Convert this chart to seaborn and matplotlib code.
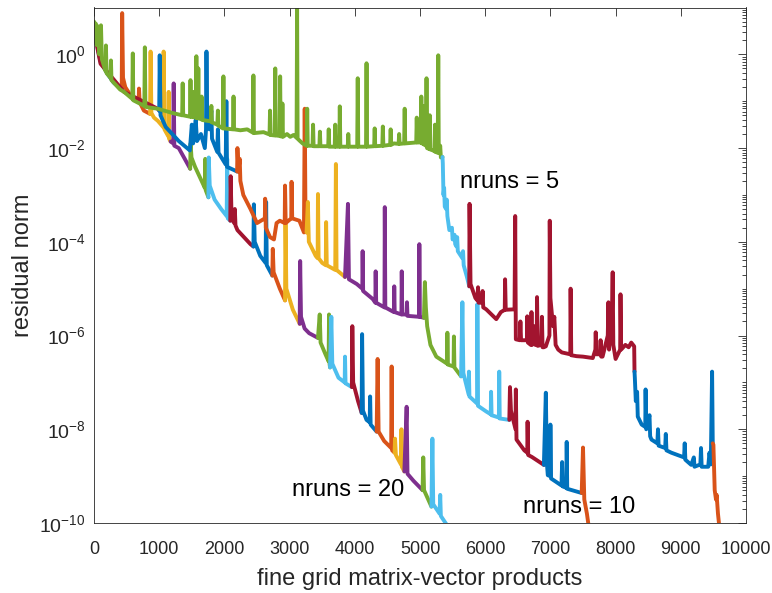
import matplotlib
matplotlib.use("Agg")
import matplotlib.pyplot as plt
import numpy as np
import pandas as pd
import seaborn as sns
from matplotlib.ticker import FixedLocator, LogFormatterSciNotation, NullFormatter

# MATLAB default colour order
COLORS = ["#0072BD", "#D95319", "#EDB120", "#7E2F8E", "#77AC30", "#4DBEEE", "#A2142F"]

# Each run: list of restart segments, each a list of (matvecs, log10 residual norm)
RUN20_COLOR = [0, 1, 2, 3, 4, 5, 6, 0, 1, 2, 3, 4, 5, 6, 0, 1, 2, 3, 4, 5]
RUN20 = [
    [(0, 0.55), (20, 0.3), (40, 0.5), (60, 0.1), (100, -0.15), (200, -0.4), (300, -0.6), (425, -0.75)],
    [(425, -0.75), (432, 0.88), (445, -0.5), (480, -0.7), (550, -0.85), (650, -0.98), (685, -1.0), (690, -0.73),
     (700, -1.02), (765, -1.2), (860, -1.27)],
    [(860, -1.27), (868, 0.06), (880, -1.25), (920, -1.35), (980, -1.42), (1060, -1.55), (1068, 0.06), (1080, -1.6),
     (1140, -1.75), (1145, -0.8), (1152, -1.8), (1175, -1.86)],
    [(1175, -1.86), (1215, -1.9), (1222, -0.62), (1232, -1.95), (1300, -2.0), (1380, -2.2), (1475, -2.44)],
    [(1475, -2.44), (1482, -1.9), (1495, -2.2), (1550, -2.4), (1650, -2.7), (1700, -2.85), (1706, -2.23),
     (1714, -2.9), (1755, -3.05)],
    [(1755, -3.05), (1760, -2.2), (1775, -2.8), (1850, -3.1), (1950, -3.3), (2035, -3.45), (2043, -2.23),
     (2052, -3.5), (2090, -3.55)],
    [(2090, -3.55), (2096, -2.6), (2110, -3.5), (2150, -3.6), (2160, -3.3), (2170, -3.65), (2200, -3.75),
     (2300, -3.9), (2400, -4.05), (2445, -4.1)],
    [(2445, -4.1), (2452, -3.2), (2465, -4.0), (2550, -4.3), (2632, -4.45), (2640, -3.15), (2650, -4.5),
     (2735, -4.72)],
    [(2735, -4.72), (2742, -4.15), (2755, -4.65), (2850, -5.0), (2930, -5.25)],
    [(2930, -5.25), (2937, -3.55), (2950, -5.0), (3050, -5.45), (3155, -5.75)],
    [(3155, -5.75), (3162, -4.41), (3175, -5.6), (3230, -5.85), (3300, -5.95), (3435, -6.05)],
    [(3435, -6.05), (3462, -5.55), (3475, -6.15), (3550, -6.4), (3598, -6.55), (3605, -5.55), (3613, -6.6),
     (3620, -6.68)],
    [(3620, -6.68), (3640, -5.6), (3655, -6.6), (3750, -6.9), (3845, -7.0), (3850, -6.45), (3858, -7.02),
     (3955, -7.1)],
    [(3955, -7.1), (3962, -5.8), (3975, -7.0), (4050, -7.4), (4105, -7.65)],
    [(4105, -7.65), (4112, -5.97), (4125, -7.6), (4180, -7.8), (4228, -7.85), (4235, -7.3), (4243, -7.9),
     (4335, -8.05)],
    [(4335, -8.05), (4350, -6.5), (4365, -8.05), (4450, -8.25), (4558, -8.4), (4565, -6.66), (4573, -8.45),
     (4610, -8.5)],
    [(4610, -8.5), (4617, -8.2), (4630, -8.55), (4708, -8.75), (4715, -8.0), (4722, -8.8), (4760, -8.9)],
    [(4760, -8.9), (4795, -7.52), (4808, -8.95), (4900, -9.1), (5040, -9.3)],
    [(5040, -9.3), (5050, -8.6), (5062, -9.3), (5175, -9.65)],
    [(5175, -9.65), (5190, -8.2), (5203, -9.6), (5300, -9.8), (5310, -9.4), (5320, -9.85), (5440, -10.1)],
]

RUN10_COLOR = [6, 0, 1, 2, 3, 4, 5, 6, 0, 1]
RUN10 = [
    [(0, 0.5), (100, -0.2), (460, -0.8), (977, -1.16), (1000, -1.2)],
    [(1000, -1.2), (1008, -0.02), (1020, -1.3), (1100, -1.55), (1300, -1.85), (1470, -2.05), (1500, -1.5),
     (1520, -1.9), (1560, -1.4), (1580, -1.85), (1640, -1.7), (1700, -2.0), (1718, -1.6), (1725, 0.06),
     (1735, -1.5), (1770, -1.6), (1800, -1.2), (1810, -1.8), (1890, -2.08), (1900, -1.6), (1910, -2.1),
     (2020, -2.35), (2030, -1.0), (2040, -2.4), (2195, -2.5)],
    [(2195, -2.5), (2200, -2.0), (2215, -2.5), (2235, -2.23), (2245, -2.7), (2290, -3.0), (2400, -3.3),
     (2500, -3.6), (2620, -3.5), (2625, -3.08), (2635, -3.7), (2700, -3.9), (2760, -3.95), (2800, -3.6),
     (2850, -3.55), (2925, -3.6), (2930, -2.8), (2940, -3.6), (3025, -3.5), (3030, -2.72), (3040, -3.5),
     (3150, -3.55), (3220, -3.8), (3232, -1.16), (3245, -3.7), (3260, -3.8)],
    [(3260, -3.8), (3280, -3.15), (3295, -4.0), (3400, -4.3), (3430, -4.35), (3435, -2.98), (3445, -4.35),
     (3500, -4.45), (3555, -4.5), (3560, -3.58), (3570, -4.5), (3700, -4.6), (3710, -2.34), (3720, -4.6),
     (3850, -4.75)],
    [(3850, -4.75), (3895, -3.19), (3910, -4.8), (4030, -4.9), (4115, -5.0), (4120, -4.2), (4128, -5.05),
     (4275, -5.22), (4315, -5.3), (4320, -4.63), (4328, -5.3), (4455, -5.4), (4460, -3.26), (4468, -5.4),
     (4600, -5.5), (4605, -4.95), (4612, -5.5), (4715, -5.55), (4720, -4.63), (4728, -5.55), (4795, -5.55),
     (4800, -5.29), (4808, -5.58), (4985, -5.6), (4990, -4.05), (4998, -5.6), (5060, -5.62)],
    [(5060, -5.62), (5075, -4.86), (5090, -5.4), (5110, -5.8), (5160, -6.2), (5250, -6.45), (5415, -6.6),
     (5420, -5.94), (5428, -6.62), (5515, -6.66), (5520, -6.02), (5528, -6.68), (5630, -6.87)],
    [(5630, -6.87), (5650, -5.29), (5665, -6.8), (5745, -7.25), (5750, -6.77), (5758, -7.3), (5875, -7.45),
     (5880, -5.33), (5890, -7.5), (6015, -7.62), (6085, -7.68), (6090, -7.2), (6098, -7.7), (6210, -7.75),
     (6215, -6.77), (6223, -7.77), (6370, -7.8)],
    [(6370, -7.8), (6380, -7.1), (6395, -7.6), (6465, -8.0), (6470, -7.15), (6480, -8.22), (6600, -8.45),
     (6645, -8.5), (6650, -7.84), (6660, -8.55), (6715, -8.59), (6900, -8.76)],
    [(6900, -8.76), (6930, -7.22), (6945, -8.7), (6960, -8.98), (6995, -9.0), (7000, -7.9), (7010, -9.05),
     (7170, -9.2), (7180, -8.7), (7190, -9.22), (7245, -9.25), (7250, -8.27), (7258, -9.27), (7480, -9.36)],
    [(7480, -9.36), (7500, -8.39), (7520, -9.5), (7560, -9.8), (7600, -10.2)],
]

RUN5_COLOR = [4, 5, 6, 0, 1]
RUN5 = [
    [(0, 0.7), (10, 0.3), (25, 0.66), (40, 0.2), (60, 0.6), (80, 0.0), (107, 0.62), (120, -0.1), (175, -0.35),
     (183, 0.19), (192, -0.4), (252, -0.5), (260, -0.13), (268, -0.55), (400, -0.75), (460, -0.8),
     (587, -0.95), (595, 0.02), (603, -0.98), (772, -1.1), (780, 0.15), (788, -1.12), (977, -1.16),
     (1200, -1.25), (1352, -1.3), (1360, -0.62), (1368, -1.3), (1472, -1.33), (1480, -0.55), (1488, -1.33),
     (1512, -1.34), (1520, -0.8), (1528, -1.34), (1562, -1.35), (1570, -0.04), (1578, -1.36), (1592, -1.36),
     (1600, -0.3), (1608, -1.37), (1642, -1.38), (1650, -0.9), (1658, -1.4), (1792, -1.43), (1800, -1.1),
     (1808, -1.45), (1892, -1.5), (1900, -1.2), (1908, -1.52), (1977, -1.58), (1985, -0.47), (1993, -1.58),
     (2132, -1.6), (2140, -0.9), (2148, -1.6), (2245, -1.62), (2350, -1.6), (2437, -1.67), (2445, -0.45),
     (2453, -1.68), (2600, -1.66), (2692, -1.71), (2700, -1.2), (2708, -1.72), (2772, -1.73), (2780, -0.3),
     (2788, -1.73), (2847, -1.74), (2855, -0.47), (2863, -1.75), (2882, -1.75), (2890, -1.05), (2898, -1.76),
     (2960, -1.7), (3010, -1.76), (3060, -1.72), (3107, -1.78), (3115, 0.98), (3123, -1.8), (3160, -1.85),
     (3200, -1.9), (3262, -1.95), (3270, -1.16), (3278, -1.95), (3352, -1.95), (3360, -1.5), (3368, -1.96),
     (3457, -1.96), (3465, -1.65), (3473, -1.96), (3592, -1.96), (3600, -1.6), (3608, -1.97), (3692, -1.97),
     (3700, -1.5), (3708, -1.97), (3762, -1.97), (3770, -1.11), (3778, -1.97), (3892, -1.97), (3900, -1.7),
     (3908, -1.97), (4037, -1.97), (4045, -0.51), (4053, -1.97), (4172, -1.97), (4180, -0.19), (4188, -1.97),
     (4297, -1.96), (4305, -1.58), (4313, -1.96), (4422, -1.95), (4430, -1.54), (4438, -1.95), (4542, -1.93),
     (4550, -1.6), (4558, -1.93), (4600, -1.9), (4672, -1.91), (4680, -1.7), (4688, -1.91), (4757, -1.9),
     (4765, -1.16), (4773, -1.9), (4942, -1.88), (4950, -1.35), (4958, -1.88), (5012, -1.88), (5020, -0.9),
     (5028, -1.9), (5042, -1.9), (5050, -1.1), (5058, -1.92), (5092, -1.95), (5100, -0.51), (5108, -2.0),
     (5142, -2.02), (5150, -1.3), (5158, -2.03), (5200, -2.05), (5222, -2.07), (5230, -1.5), (5238, -2.08),
     (5272, -2.1), (5280, -0.02), (5288, -2.1), (5310, -1.95), (5320, -2.2), (5345, -2.19)],
    [(5345, -2.19), (5350, -2.33), (5360, -3.0), (5370, -2.85), (5380, -3.25), (5400, -3.3), (5410, -3.1),
     (5420, -3.45), (5450, -3.75), (5490, -3.7), (5500, -3.95), (5530, -3.85), (5540, -4.05), (5560, -4.1),
     (5570, -3.9), (5580, -4.2), (5650, -4.35), (5660, -4.2), (5670, -4.5), (5720, -4.75), (5755, -4.95)],
    [(5755, -4.95), (5760, -3.19), (5775, -4.9), (5850, -5.2), (5880, -5.25), (5890, -4.97), (5900, -5.3),
     (5950, -5.3), (5960, -5.05), (5970, -5.4), (6015, -5.44), (6170, -5.65), (6240, -5.5), (6300, -5.45),
     (6305, -4.8), (6315, -5.45), (6450, -5.44), (6460, -3.45), (6470, -6.08), (6530, -6.1), (6540, -5.7),
     (6550, -6.1), (6600, -6.1), (6640, -6.1), (6645, -5.59), (6655, -6.15), (6700, -6.2), (6710, -5.5),
     (6720, -6.2), (6750, -6.1), (6760, -5.8), (6770, -6.2), (6790, -6.2), (6795, -5.18), (6805, -6.22),
     (6860, -6.2), (6870, -5.6), (6880, -6.25), (6900, -6.25), (6930, -6.23), (6985, -6.0), (6990, -3.55),
     (7000, -5.2), (7040, -5.8), (7060, -5.6), (7080, -6.2), (7120, -6.3), (7175, -6.36), (7305, -6.4),
     (7310, -5.0), (7320, -6.42), (7400, -6.44), (7500, -6.45), (7650, -6.48), (7690, -6.3), (7695, -5.93),
     (7705, -6.4), (7760, -6.4), (7770, -6.1), (7780, -6.45), (7800, -6.45), (7880, -6.0), (7890, -5.29),
     (7900, -6.3), (7945, -5.5), (7955, -4.65), (7965, -6.2), (8000, -6.5), (8070, -6.3), (8075, -5.12),
     (8085, -6.3), (8150, -6.2), (8200, -6.25), (8240, -6.15), (8285, -6.23), (8290, -6.77)],
    [(8290, -6.77), (8295, -6.9), (8310, -7.4), (8330, -7.2), (8340, -7.73), (8400, -7.9), (8455, -7.95),
     (8460, -7.15), (8470, -8.0), (8520, -7.7), (8530, -8.15), (8550, -8.22), (8640, -8.3), (8650, -8.0),
     (8660, -8.35), (8760, -8.4), (8770, -8.1), (8780, -8.45), (8855, -8.5), (9050, -8.6), (9060, -8.3),
     (9070, -8.65), (9160, -8.76), (9200, -8.6), (9210, -8.8), (9300, -8.75), (9310, -8.4), (9320, -8.8),
     (9420, -8.8), (9440, -8.5), (9460, -8.75), (9480, -6.77), (9490, -8.3)],
    [(9490, -8.3), (9500, -8.33), (9520, -9.3), (9540, -9.5), (9550, -9.4), (9570, -9.8), (9600, -10.2)],
]

LABELS = ["nruns = 20", "nruns = 10", "nruns = 5"]
LABEL_X = [3040, 6580, 5610]
LABEL_LOGY = [-9.29, -9.66, -2.72]

sns.set_style("white")
plt.rcParams["font.family"] = ["Liberation Sans", "DejaVu Sans"]
plt.rcParams["mathtext.fontset"] = "custom"
plt.rcParams["mathtext.rm"] = "Liberation Sans"
plt.rcParams["mathtext.it"] = "Liberation Sans:italic"
plt.rcParams["mathtext.bf"] = "Liberation Sans:bold"

fig = plt.figure(figsize=(7.72, 5.93), dpi=100)
ax = fig.add_axes([94 / 772, 1 - 523 / 593, 652 / 772, (523 - 7.5) / 593])

for run, cols in [(RUN20, RUN20_COLOR), (RUN10, RUN10_COLOR), (RUN5, RUN5_COLOR)]:
    for seg, c in zip(run, cols):
        df = pd.DataFrame(seg, columns=["x", "e"])
        df["y"] = 10.0 ** df["e"]
        sns.lineplot(data=df, x="x", y="y", color=COLORS[c], lw=2.8, sort=False,
                     estimator=None, ax=ax, legend=False,
                     solid_joinstyle="round", solid_capstyle="round")

ax.set_yscale("log")
ax.set_xlim(0, 10000)
ax.set_ylim(1e-10, 10)

for lab, lx, ly in zip(LABELS, LABEL_X, LABEL_LOGY):
    ax.text(lx, 10.0 ** ly, lab, fontsize=17, ha="left", va="center", color="black")

ax.set_xticks(np.arange(0, 10001, 1000))
ax.yaxis.set_major_locator(FixedLocator([10.0 ** k for k in range(-10, 1, 2)]))
ax.yaxis.set_major_formatter(LogFormatterSciNotation())
minors = [m * 10.0 ** k for k in range(-10, 1) for m in range(1, 10)
          if not (m == 1 and k % 2 == 0)]
ax.yaxis.set_minor_locator(FixedLocator(minors))
ax.yaxis.set_minor_formatter(NullFormatter())

ax.tick_params(axis="both", which="both", direction="in", top=True, right=True,
               colors="#262626", width=0.6)
ax.tick_params(which="major", length=6)
ax.tick_params(which="minor", length=3)
ax.tick_params(axis="x", pad=13, labelsize=13)
ax.tick_params(axis="y", pad=6, labelsize=14)
for s in ax.spines.values():
    s.set_color("#262626")
    s.set_linewidth(0.6)

ax.set_xlabel("fine grid matrix-vector products", fontsize=17, color="#262626", labelpad=7)
ax.set_ylabel("residual norm", fontsize=17, color="#262626", labelpad=4)
ax.grid(False)

fig.savefig("out.png", dpi=100)
